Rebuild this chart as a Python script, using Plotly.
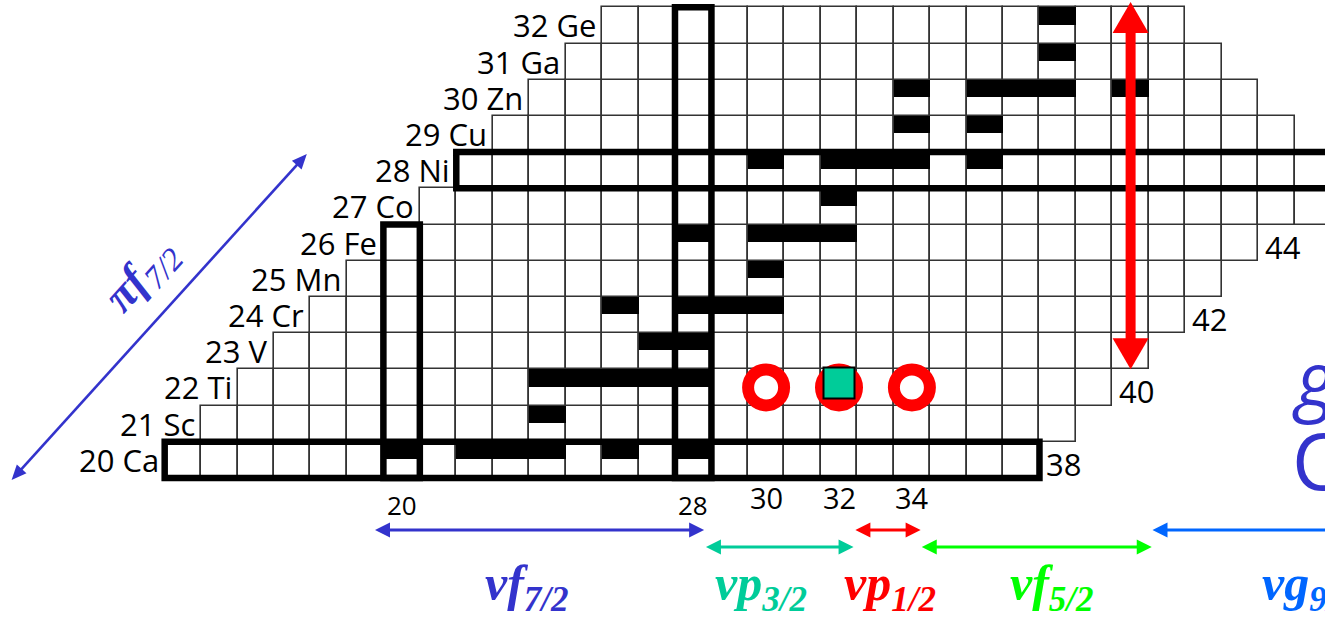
import math
import plotly.graph_objects as go

# ---- isotope rows of the chart (proton number, symbol, neutron span) ----
Z_ROWS = [20, 21, 22, 23, 24, 25, 26, 27, 28, 29, 30, 31, 32]
SYMBOLS = ["Ca", "Sc", "Ti", "V", "Cr", "Mn", "Fe", "Co", "Ni", "Cu", "Zn", "Ga", "Ge"]
N_FIRST = [14, 15, 16, 17, 18, 19, 20, 21, 22, 23, 24, 25, 26]
N_LAST = [37, 38, 39, 40, 41, 42, 43, 47, 47, 44, 43, 42, 41]

# isotopes flagged with a filled upper half
MARK_Z = [20, 20, 20, 20, 20, 20, 21, 22, 22, 22, 22, 22, 23, 23, 24, 24, 24, 24,
          25, 26, 26, 26, 26, 27, 28, 28, 28, 28, 28, 29, 29, 30, 30, 30, 30, 30, 31, 32]
MARK_N = [20, 22, 23, 24, 26, 28, 24, 24, 25, 26, 27, 28, 27, 28, 26, 28, 29, 30,
          30, 28, 30, 31, 32, 32, 30, 32, 33, 34, 36, 34, 36, 34, 36, 37, 38, 40, 38, 38]

# neutron numbers written at the end of some rows
EDGE_N = [38, 40, 42, 44]
EDGE_Z = [20, 22, 24, 26]

# neutron numbers written under the chart
TICK_N = [20, 28, 30, 32, 34]

# magic numbers that get a heavy outline (row for Z, column for N)
MAGIC_Z = [20, 28]
MAGIC_N = [20, 28]

# Ti isotopes highlighted with rings / a filled dot
RING_Z = 22
RING_N = [30, 34]
DOT_N = [32]

# neutron orbitals filled between the arrows below the chart
SHELL_NAME = ["νf", "νp", "νp", "νf", "νg"]
SHELL_J = ["7/2", "3/2", "1/2", "5/2", "9/2"]
SHELL_FROM = [19.27, 28.35, 32.45, 34.27, 40.60]
SHELL_TO = [28.30, 32.40, 34.24, 40.58, 47.0]
SHELL_TEXT_N = [23.45, 29.86, 33.40, 37.84, 43.55]
SHELL_COLOR = ["#3333CC", "#00CC99", "#FF0000", "#00FF00", "#0066FF"]
SHELL_LOW = [False, True, False, True, False]

# proton orbital arrow along the diagonal edge
PI_FROM = (9.30, 19.44)
PI_TO = (17.40, 28.45)

# ---- geometry of the drawing ----
W, H = 1325, 620
KX, KY = 36.45, 36.2            # pixels per neutron / proton unit
X_LEFT = 28 - 693.2 / KX        # neutron value at the left border
Z_TOP = 32 + 25.4 / KY          # proton value at the top border
X_RIGHT = X_LEFT + W / KX
Z_BOTTOM = Z_TOP - H / KY

GRID = "#333333"
BLUE = "#3333CC"
FILL_FRAC = 0.48


def to_px(x, y):
    return (x - X_LEFT) * KX, (Z_TOP - y) * KY


def to_data(px, py):
    return X_LEFT + px / KX, Z_TOP - py / KY


def arrow(shapes, x0, y0, x1, y1, color, width, head_len, head_w,
          head_start=True, head_end=True):
    p0 = to_px(x0, y0)
    p1 = to_px(x1, y1)
    dx, dy = p1[0] - p0[0], p1[1] - p0[1]
    length = math.hypot(dx, dy)
    ux, uy = dx / length, dy / length
    nx, ny = -uy, ux

    def head(tip, sgn):
        bx = tip[0] - sgn * ux * head_len
        by = tip[1] - sgn * uy * head_len
        pts = [tip, (bx + nx * head_w / 2, by + ny * head_w / 2),
               (bx - nx * head_w / 2, by - ny * head_w / 2)]
        d = [to_data(*p) for p in pts]
        path = "M{},{} L{},{} L{},{} Z".format(d[0][0], d[0][1], d[1][0], d[1][1], d[2][0], d[2][1])
        shapes.append(dict(type="path", path=path, xref="x", yref="y",
                           fillcolor=color, line=dict(width=0)))

    s = p0
    e = p1
    if head_start:
        head(p0, -1)
        s = (p0[0] + ux * head_len * 0.8, p0[1] + uy * head_len * 0.8)
    if head_end:
        head(p1, 1)
        e = (p1[0] - ux * head_len * 0.8, p1[1] - uy * head_len * 0.8)
    sd = to_data(*s)
    ed = to_data(*e)
    shapes.insert(0, dict(type="line", xref="x", yref="y", x0=sd[0], y0=sd[1],
                          x1=ed[0], y1=ed[1], line=dict(color=color, width=width)))


fig = go.Figure()

# empty cells of every isotope row
cell_x, cell_base = [], []
for z, n0, n1 in zip(Z_ROWS, N_FIRST, N_LAST):
    for n in range(n0, n1 + 1):
        cell_x.append(n)
        cell_base.append(z - 0.5)
fig.add_trace(go.Bar(
    x=cell_x, y=[1.0] * len(cell_x), base=cell_base, width=1.0,
    marker=dict(color="white", line=dict(color=GRID, width=1.6)),
    hoverinfo="skip", showlegend=False))

# filled upper halves
fig.add_trace(go.Bar(
    x=MARK_N, y=[FILL_FRAC] * len(MARK_N),
    base=[z + 0.5 - FILL_FRAC for z in MARK_Z], width=1.0,
    marker=dict(color="black", line=dict(width=0)),
    hoverinfo="skip", showlegend=False))

shapes = []

# heavy outlines for the magic rows and columns
for zm in MAGIC_Z:
    i = Z_ROWS.index(zm)
    shapes.append(dict(type="rect", xref="x", yref="y",
                       x0=N_FIRST[i] - 0.5, x1=N_LAST[i] + 0.5,
                       y0=zm - 0.5, y1=zm + 0.5,
                       line=dict(color="black", width=6.5)))
for nm in MAGIC_N:
    zs = [z for z, a, b in zip(Z_ROWS, N_FIRST, N_LAST) if a <= nm <= b]
    shapes.append(dict(type="rect", xref="x", yref="y",
                       x0=nm - 0.5, x1=nm + 0.5,
                       y0=min(zs) - 0.5, y1=max(zs) + 0.5,
                       line=dict(color="black", width=6.5)))

# red double arrow along N = 40
arrow_shapes = []
arrow(arrow_shapes, 40, 22.5, 40, Z_TOP - 2 / KY, "#FF0000", 10, 31, 36)

# proton orbital arrow
arrow(arrow_shapes, PI_FROM[0], PI_FROM[1], PI_TO[0], PI_TO[1], BLUE, 2.6, 15, 13)

# neutron orbital arrows
for a, b, col, low in zip(SHELL_FROM, SHELL_TO, SHELL_COLOR, SHELL_LOW):
    y = to_data(0, 547 if low else 530)[1]
    arrow(arrow_shapes, a, y, b, y, col, 3, 15, 15,
          head_start=True, head_end=b < X_RIGHT)

fig.update_layout(shapes=shapes + arrow_shapes)

# rings and dot on the Ti row
fig.add_trace(go.Scatter(
    x=RING_N, y=[RING_Z] * len(RING_N), mode="markers",
    marker=dict(symbol="circle", size=36, color="white",
                line=dict(color="#FF0000", width=12)),
    hoverinfo="skip", showlegend=False))
fig.add_trace(go.Scatter(
    x=DOT_N, y=[RING_Z] * len(DOT_N), mode="markers",
    marker=dict(symbol="circle", size=36, color="#FF0000",
                line=dict(color="#FF0000", width=12)),
    hoverinfo="skip", showlegend=False))
fig.add_trace(go.Scatter(
    x=DOT_N, y=[RING_Z + 0.12] * len(DOT_N), mode="markers",
    marker=dict(symbol="square", size=31, color="#00CC99",
                line=dict(color="black", width=2)),
    hoverinfo="skip", showlegend=False))

ann = []
LABEL_FONT = dict(family="Open Sans, Noto Sans, sans-serif", size=31, color="black")

# element labels on the left of each row
for z, sym, n0 in zip(Z_ROWS, SYMBOLS, N_FIRST):
    ann.append(dict(x=n0 - 0.5, y=z, xref="x", yref="y", text=f"{z} {sym}",
                    showarrow=False, xanchor="right", yanchor="middle",
                    xshift=-4, yshift=0, font=LABEL_FONT))

# neutron numbers at the row ends
for n, z in zip(EDGE_N, EDGE_Z):
    ann.append(dict(x=n - 0.5, y=z, xref="x", yref="y", text=str(n),
                    showarrow=False, xanchor="left", yanchor="middle",
                    xshift=5, yshift=-4, font=LABEL_FONT))

# neutron numbers under the chart
for n in TICK_N:
    py = 505 if n in MAGIC_N else 497
    ann.append(dict(x=n, y=1 - py / H, xref="x", yref="paper", text=str(n),
                    showarrow=False, xanchor="center", yanchor="middle",
                    font=dict(family="Open Sans, sans-serif",
                              size=26 if n in MAGIC_N else 29, color="black")))

# orbital names
SERIF = "Liberation Serif, Times New Roman, serif"
for name, j, xn, col, i in zip(SHELL_NAME, SHELL_J, SHELL_TEXT_N, SHELL_COLOR, range(5)):
    ann.append(dict(x=xn, y=1 - 587 / H, xref="x", yref="paper",
                    text=f"<b><i>{name}<sub>{j}</sub></i></b>",
                    showarrow=False, xanchor="left" if i == 4 else "center",
                    yanchor="middle",
                    font=dict(family=SERIF, size=50, color=col)))

# proton orbital name along the diagonal
ann.append(dict(x=142 / W, y=1 - 276 / H, xref="paper", yref="paper",
                text="<b><i>πf</i></b><sub><i>7/2</i></sub>",
                showarrow=False, textangle=-48, xanchor="center", yanchor="middle",
                font=dict(family=SERIF, size=46, color=BLUE)))

# large caption partly outside the frame
ann.append(dict(x=1290 / W, y=1 - 378 / H, xref="paper", yref="paper",
                text="<i>g</i>", showarrow=False, xanchor="left", yanchor="middle",
                font=dict(family="Open Sans, sans-serif", size=76, color=BLUE)))
ann.append(dict(x=1290 / W, y=1 - 460 / H, xref="paper", yref="paper",
                text="C", showarrow=False, xanchor="left", yanchor="middle",
                font=dict(family="Open Sans, sans-serif", size=78, color=BLUE)))

fig.update_layout(
    annotations=ann,
    width=W, height=H,
    margin=dict(l=0, r=0, t=0, b=0),
    paper_bgcolor="white", plot_bgcolor="white",
    barmode="overlay", bargap=0,
    xaxis=dict(range=[X_LEFT, X_RIGHT], visible=False, fixedrange=True),
    yaxis=dict(range=[Z_BOTTOM, Z_TOP], visible=False, fixedrange=True),
    showlegend=False,
)

fig.write_html("out.html", config={"displayModeBar": False})
